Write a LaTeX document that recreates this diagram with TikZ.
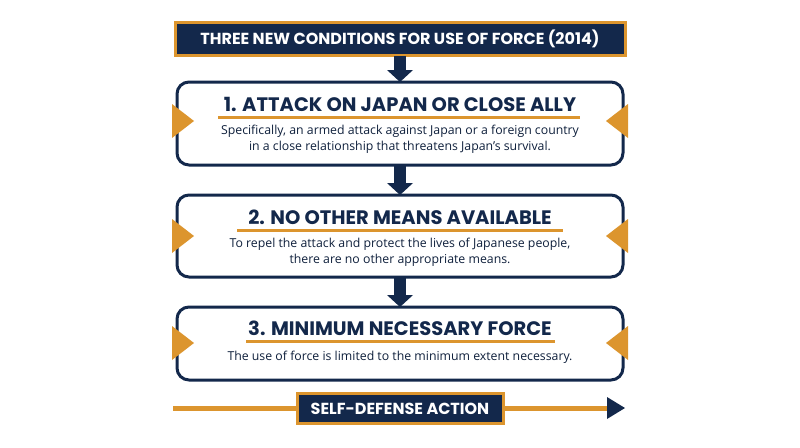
\documentclass[tikz,border=0pt]{standalone}
\usepackage{fontspec}
\setmainfont{Open Sans}
\newfontfamily\headfont{Poppins}
\usetikzlibrary{positioning}
\definecolor{navy}{HTML}{13284B}
\definecolor{gold}{HTML}{DC952E}
\begin{document}
\begin{tikzpicture}[x=1pt,y=-1pt,inner sep=0pt,outer sep=0pt,
  banner/.style={draw=gold,line width=3pt,fill=navy,text=white,font=\headfont\bfseries\fontsize{16}{18}\selectfont},
  stepbox/.style={draw=navy,line width=3pt,rounded corners=12pt,fill=white},
  steptitle/.style={text=navy,font=\headfont\bfseries\fontsize{19.5}{21}\selectfont},
  stepbody/.style={text=navy!80!black,align=center,font=\fontsize{12.3}{16}\selectfont},
  flow/.style={navy,line width=12pt},
  flowhead/.style={fill=navy},
  tab/.style={fill=gold}]
\useasboundingbox (0,0) rectangle (800,447);

% header
\node[banner,minimum width=450pt,minimum height=33pt] (head) at (400,38.5) {THREE NEW CONDITIONS FOR USE OF FORCE (2014)};

% steps
\draw[stepbox] (177,82) rectangle (623,165);
\draw[stepbox] (177,195) rectangle (623,277);
\draw[stepbox] (177,307) rectangle (623,380);
\node[steptitle] (t1) at (400,104) {1. ATTACK ON JAPAN OR CLOSE ALLY};
\node[steptitle] (t2) at (400,217) {2. NO OTHER MEANS AVAILABLE};
\node[steptitle] (t3) at (400,328) {3. MINIMUM NECESSARY FORCE};
\node[stepbody] (b1) at (400,139) {Specifically, an armed attack against Japan or a foreign country\\in a close relationship that threatens Japan’s survival.};
\node[stepbody] (b2) at (400,252) {To repel the attack and protect the lives of Japanese people,\\there are no other appropriate means.};
\node[stepbody] (b3) at (400,357) {The use of force is limited to the minimum extent necessary.};
\draw[gold,line width=3pt] (218,117) -- (580,117);
\draw[gold,line width=3pt] (237,230) -- (563,230);
\draw[gold,line width=3pt] (246,341) -- (555,341);

% side tabs
\foreach \y in {121,236,343} {
  \fill[tab] (172,\y-17) -- (194,\y) -- (172,\y+17) -- cycle;
  \fill[tab] (628,\y-17) -- (606,\y) -- (628,\y+17) -- cycle;
}

% down arrows
\foreach \a/\b in {56/82,166/195,278/307} {
  \draw[flow] (400,\a) -- (400,\b-10);
  \fill[flowhead] (387,\b-12) -- (413,\b-12) -- (400,\b) -- cycle;
}

% action line
\coordinate (lineL) at (173,408);
\coordinate (lineR) at (609,408);
\draw[gold,line width=5pt] (lineL) -- (lineR);
\fill[navy] (607,397) -- (625,408) -- (607,419) -- cycle;
\node[banner,minimum width=206pt,minimum height=30pt] (act) at (400,408.5) {SELF-DEFENSE ACTION};
\end{tikzpicture}
\end{document}
